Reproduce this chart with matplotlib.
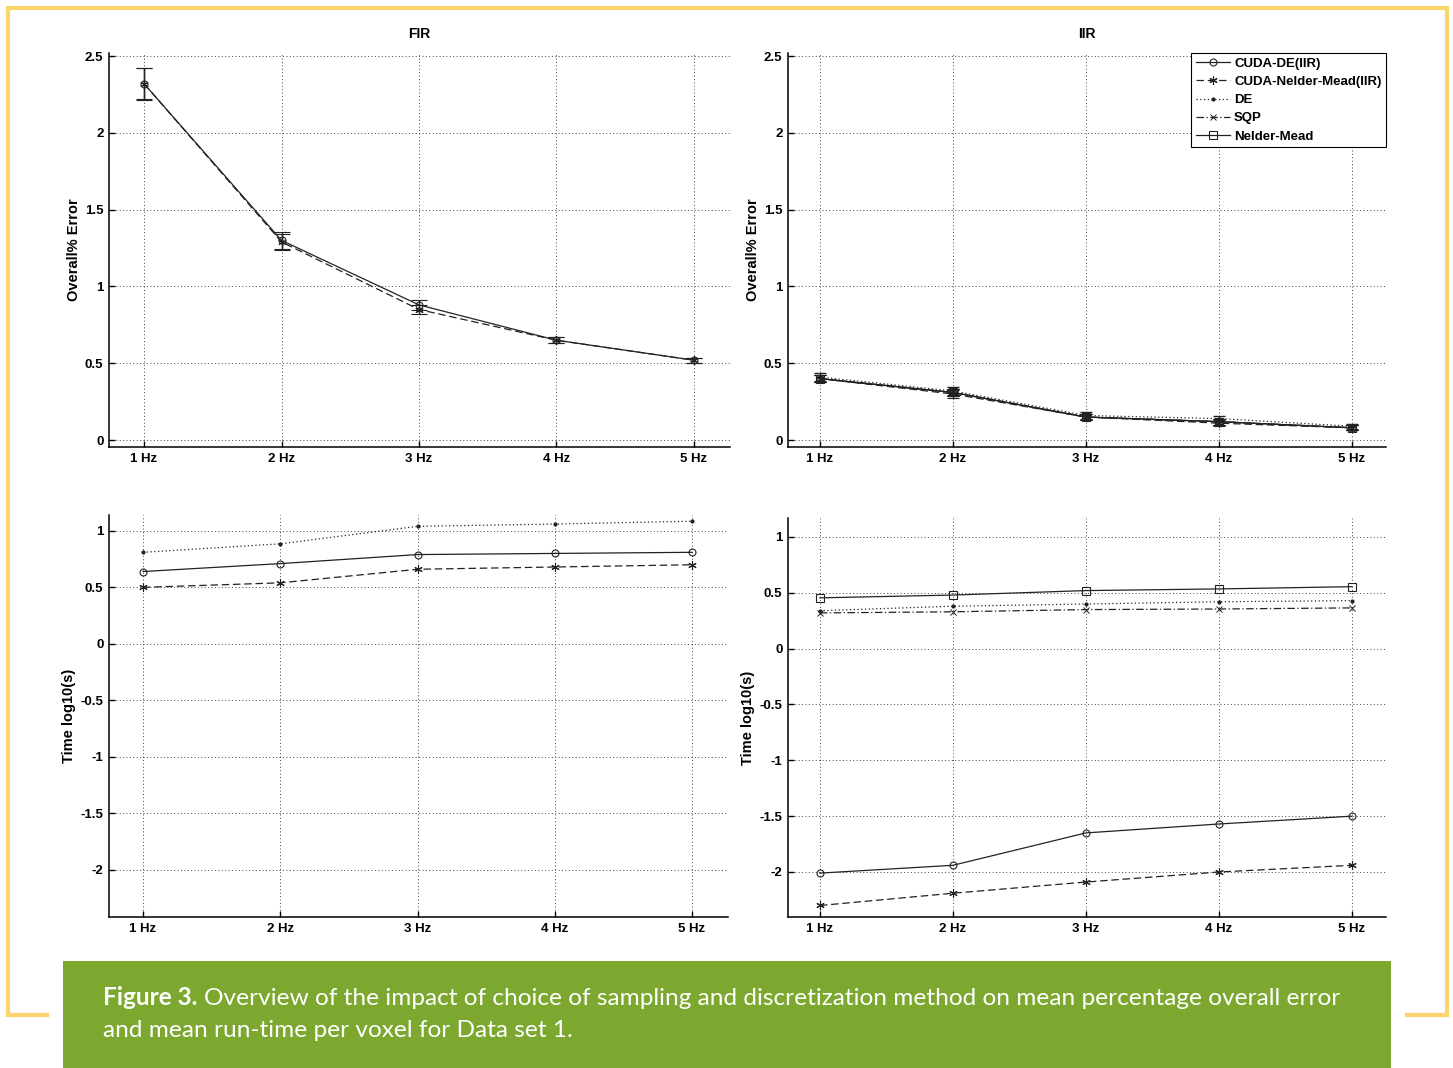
import numpy as np
import matplotlib.pyplot as plt
from matplotlib.lines import Line2D
from matplotlib.patches import Rectangle

# frequencies on x axis
freqs = [1, 2, 3, 4, 5]
freq_labels = ['1 Hz', '2 Hz', '3 Hz', '4 Hz', '5 Hz']

# FIR overall % error (top left)
fir_err_cuda_de = [2.32, 1.30, 0.88, 0.65, 0.52]
fir_err_cuda_de_sd = [0.105, 0.055, 0.03, 0.02, 0.015]
fir_err_cuda_nm = [2.32, 1.29, 0.85, 0.65, 0.52]
fir_err_cuda_nm_sd = [0.10, 0.05, 0.03, 0.02, 0.015]

# IIR overall % error (top right)
iir_err_cuda_de = [0.40, 0.31, 0.15, 0.12, 0.08]
iir_err_cuda_nm = [0.40, 0.30, 0.15, 0.11, 0.08]
iir_err_de = [0.41, 0.32, 0.16, 0.14, 0.09]
iir_err_sqp = [0.40, 0.31, 0.15, 0.12, 0.08]
iir_err_nm = [0.40, 0.31, 0.15, 0.12, 0.08]
iir_err_sd = [0.025, 0.025, 0.02, 0.02, 0.015]

# FIR run time log10(s) (bottom left)
fir_t_cuda_de = [0.64, 0.71, 0.79, 0.80, 0.81]
fir_t_cuda_nm = [0.50, 0.54, 0.66, 0.68, 0.70]
fir_t_de = [0.81, 0.885, 1.04, 1.06, 1.085]

# IIR run time log10(s) (bottom right)
iir_t_cuda_de = [-2.01, -1.94, -1.65, -1.57, -1.50]
iir_t_cuda_nm = [-2.30, -2.19, -2.09, -2.00, -1.94]
iir_t_de = [0.34, 0.38, 0.40, 0.42, 0.43]
iir_t_sqp = [0.32, 0.33, 0.35, 0.355, 0.365]
iir_t_nm = [0.455, 0.48, 0.52, 0.535, 0.555]

legend_labels = ['CUDA-DE(IIR)', 'CUDA-Nelder-Mead(IIR)', 'DE', 'SQP', 'Nelder-Mead']

W, H = 1453, 1068
fig = plt.figure(figsize=(W / 100, H / 100), dpi=100)
plt.rcParams['font.family'] = ['Liberation Sans', 'DejaVu Sans']

def box(x0, x1, ytop, ybot):
    return [x0 / W, 1 - ybot / H, (x1 - x0) / W, (ybot - ytop) / H]

ax1 = fig.add_axes(box(109, 730, 53, 447))
ax2 = fig.add_axes(box(788, 1386, 53, 447))
ax3 = fig.add_axes(box(109, 728, 515, 917))
ax4 = fig.add_axes(box(788, 1386, 518, 917))

lc = '#222222'
star = (6, 2, 0)
st_cde = dict(color=lc, ls='-', marker='o', mfc='none', ms=5, lw=0.9, mew=0.8)
st_cnm = dict(color=lc, ls=(0, (6, 3)), marker=star, ms=6, lw=0.9, mew=0.8)
st_de = dict(color=lc, ls=(0, (1, 2)), marker='.', ms=4, lw=0.9)
st_sqp = dict(color=lc, ls=(0, (6, 2, 1, 2)), marker='x', ms=4, lw=0.9, mew=0.7)
st_nm = dict(color=lc, ls='-', marker='s', mfc='none', ms=6, lw=0.9, mew=0.8)
styles = [st_cde, st_cnm, st_de, st_sqp, st_nm]

# top left: FIR error
ax1.errorbar(freqs, fir_err_cuda_de, yerr=fir_err_cuda_de_sd, capsize=6, elinewidth=1, capthick=1, **st_cde)
ax1.errorbar(freqs, fir_err_cuda_nm, yerr=fir_err_cuda_nm_sd, capsize=6, elinewidth=1, capthick=1, **st_cnm)

# top right: IIR error
for vals, st in zip([iir_err_cuda_de, iir_err_cuda_nm, iir_err_de, iir_err_sqp, iir_err_nm], styles):
    ax2.errorbar(freqs, vals, yerr=iir_err_sd, capsize=4, elinewidth=0.9, **st)

# bottom left: FIR time
ax3.plot(freqs, fir_t_cuda_de, **st_cde)
ax3.plot(freqs, fir_t_cuda_nm, **st_cnm)
ax3.plot(freqs, fir_t_de, **st_de)

# bottom right: IIR time
for vals, st in zip([iir_t_cuda_de, iir_t_cuda_nm, iir_t_de, iir_t_sqp, iir_t_nm], styles):
    ax4.plot(freqs, vals, **st)

for ax in (ax1, ax2):
    ax.set_ylim(-0.045, 2.52)
    ax.set_yticks([0, 0.5, 1, 1.5, 2, 2.5])
    ax.set_yticklabels(['0', '0.5', '1', '1.5', '2', '2.5'])
    ax.set_ylabel('Overall% Error', fontsize=10.5, fontweight='bold', labelpad=3)
ax1.set_xlim(0.745, 5.262)
ax2.set_xlim(0.76, 5.256)
ax1.set_title('FIR', fontsize=10, fontweight='bold', pad=11)
ax2.set_title('IIR', fontsize=10, fontweight='bold', pad=11)

ax3.set_ylim(-2.416, 1.14)
ax4.set_ylim(-2.403, 1.17)
ax3.set_xlim(0.752, 5.262)
ax4.set_xlim(0.76, 5.256)
for ax in (ax3, ax4):
    ax.set_yticks([-2, -1.5, -1, -0.5, 0, 0.5, 1])
    ax.set_yticklabels(['-2', '-1.5', '-1', '-0.5', '0', '0.5', '1'])
    ax.set_ylabel('Time log10(s)', fontsize=10.5, fontweight='bold', labelpad=3)

for ax in (ax1, ax2, ax3, ax4):
    ax.set_xticks(freqs)
    ax.set_xticklabels(freq_labels)
    ax.grid(True, color='#444444', ls=(0, (1, 2.5)), lw=0.7)
    ax.set_axisbelow(True)
    ax.spines['top'].set_visible(False)
    ax.spines['right'].set_visible(False)
    ax.spines['left'].set_linewidth(1.1)
    ax.spines['bottom'].set_linewidth(1.1)
    ax.tick_params(direction='in', length=4, width=1, labelsize=9.5, pad=4)
    for t in ax.get_xticklabels() + ax.get_yticklabels():
        t.set_fontweight('bold')

handles = [Line2D([], [], **st) for st in styles]
leg = ax2.legend(handles, legend_labels, loc='upper right', borderaxespad=0, fontsize=9.5,
                 handlelength=2.6, labelspacing=0.45, handletextpad=0.3, borderpad=0.35,
                 fancybox=False, framealpha=1, edgecolor='black')
leg.get_frame().set_linewidth(0.8)
for t in leg.get_texts():
    t.set_fontweight('bold')

# yellow frame
yc = '#fcd36c'
fig.add_artist(Line2D([47 / W, 8 / W, 8 / W, 1447 / W, 1447 / W, 1407 / W],
                      [1 - 1015 / H, 1 - 1015 / H, 1 - 8 / H, 1 - 8 / H, 1 - 1015 / H, 1 - 1015 / H],
                      transform=fig.transFigure, color=yc, lw=3, solid_joinstyle='miter'))

# caption box
fig.add_artist(Rectangle((63 / W, 0), (1391 - 63) / W, (H - 961) / H,
                         transform=fig.transFigure, color='#7ca830', lw=0))
cap_fs = 17.6
t1 = fig.text(103 / W, 1 - 1005 / H, 'Figure 3.', color='white', fontsize=cap_fs,
              fontweight='bold', family='Lato', va='baseline')
fig.canvas.draw()
bb = t1.get_window_extent()
fig.text((bb.x1 + 7) / W, 1 - 1005 / H,
         'Overview of the impact of choice of sampling and discretization method on mean percentage overall error',
         color='white', fontsize=cap_fs, family='Lato', va='baseline')
fig.text(103 / W, 1 - 1037 / H, 'and mean run-time per voxel for Data set 1.',
         color='white', fontsize=cap_fs, family='Lato', va='baseline')

fig.savefig('out.png', dpi=100)
